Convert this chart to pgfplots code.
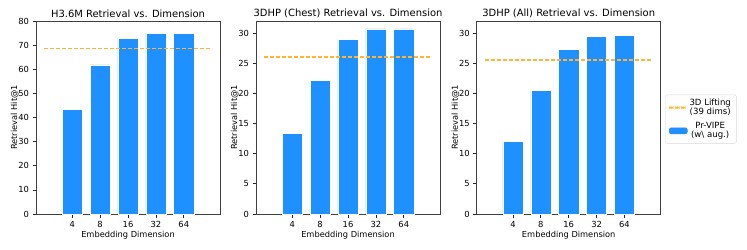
\documentclass[border=0pt]{standalone}
\usepackage{pgfplots}
\pgfplotsset{compat=1.18}
\usepackage{fontspec}
\setmainfont{DejaVu Sans}
\definecolor{barblue}{RGB}{30,144,255}
\definecolor{lineorange}{RGB}{255,180,50}
\pgfplotsset{
  panel/.style={
    scale only axis, width=184bp, height=193bp,
    xmin=-1.3, xmax=5.3, ymin=0,
    xtick={0,1,2,3,4}, xticklabels={4,8,16,32,64},
    tick align=outside, xtick pos=bottom, ytick pos=left,
    major tick length=3.5bp,
    tick style={black!85, line width=0.7pt},
    axis line style={line width=0.7pt, black!75},
    ticklabel style={font=\fontsize{8.4}{9}\selectfont},
    label style={font=\fontsize{8.3}{9}\selectfont},
    title style={font=\fontsize{10}{11}\selectfont, yshift=-6bp},
    xlabel={Embedding Dimension}, ylabel={Retrieval Hit@1},
    xlabel style={yshift=3bp},
    ylabel style={yshift=-7bp},
    /pgf/number format/assume math mode=true,
    clip=false,
  },
  bars/.style={ybar, bar width=0.72, bar shift=0pt, fill=barblue, draw=white, line width=0.5pt},
  lift/.style={sharp plot, dash pattern=on 4bp off 2bp, draw=lineorange, line width=1.5bp, mark=none, forget plot},
}
\begin{document}
\begin{tikzpicture}[x=1bp,y=1bp]
\path[use as bounding box] (0,0) rectangle (747,249);
\begin{axis}[panel, at={(36bp,35bp)}, anchor=south west, ymax=80, ytick={0,10,...,80},
  title={H3.6M Retrieval vs. Dimension}]
\addplot[bars] coordinates {(0,43.3) (1,61.8) (2,72.8) (3,75.0) (4,74.9)};
\addplot[lift] coordinates {(-1,68.7) (5,68.7)};
\end{axis}
\begin{axis}[panel, at={(256bp,35bp)}, anchor=south west, ymax=32, ytick={0,5,...,30},
  title={3DHP (Chest) Retrieval vs. Dimension}]
\addplot[bars] coordinates {(0,13.4) (1,22.1) (2,29.0) (3,30.7) (4,30.7)};
\addplot[lift] coordinates {(-1,26.0) (5,26.0)};
\end{axis}
\begin{axis}[panel, at={(476.7bp,35bp)}, anchor=south west, ymax=32, ytick={0,5,...,30},
  title={3DHP (All) Retrieval vs. Dimension},
  legend style={at={(1.025,0.618)}, anchor=north west, font=\fontsize{8.6}{9.4}\selectfont,
    draw=black!15, rounded corners=2pt, cells={align=center}, row sep=2bp,
    inner xsep=3.5bp, inner ysep=2bp},
  legend cell align=center]
\addlegendimage{legend image code/.code={\fill[lineorange] (0bp,-0.9bp) rectangle (4bp,0.9bp) (6bp,-0.9bp) rectangle (10bp,0.9bp) (12bp,-0.9bp) rectangle (16bp,0.9bp);}}
\addlegendentry{3D Lifting\\ (39 dims)}
\addplot[bars, legend image code/.code={\fill[barblue] (0bp,-3bp) rectangle (18bp,3bp);}] coordinates {(0,12.0) (1,20.5) (2,27.3) (3,29.4) (4,29.6)};
\addlegendentry{Pr-VIPE\\ (w\textbackslash{} aug.)}
\addplot[lift] coordinates {(-1,25.5) (5,25.5)};
\end{axis}
\end{tikzpicture}
\end{document}
